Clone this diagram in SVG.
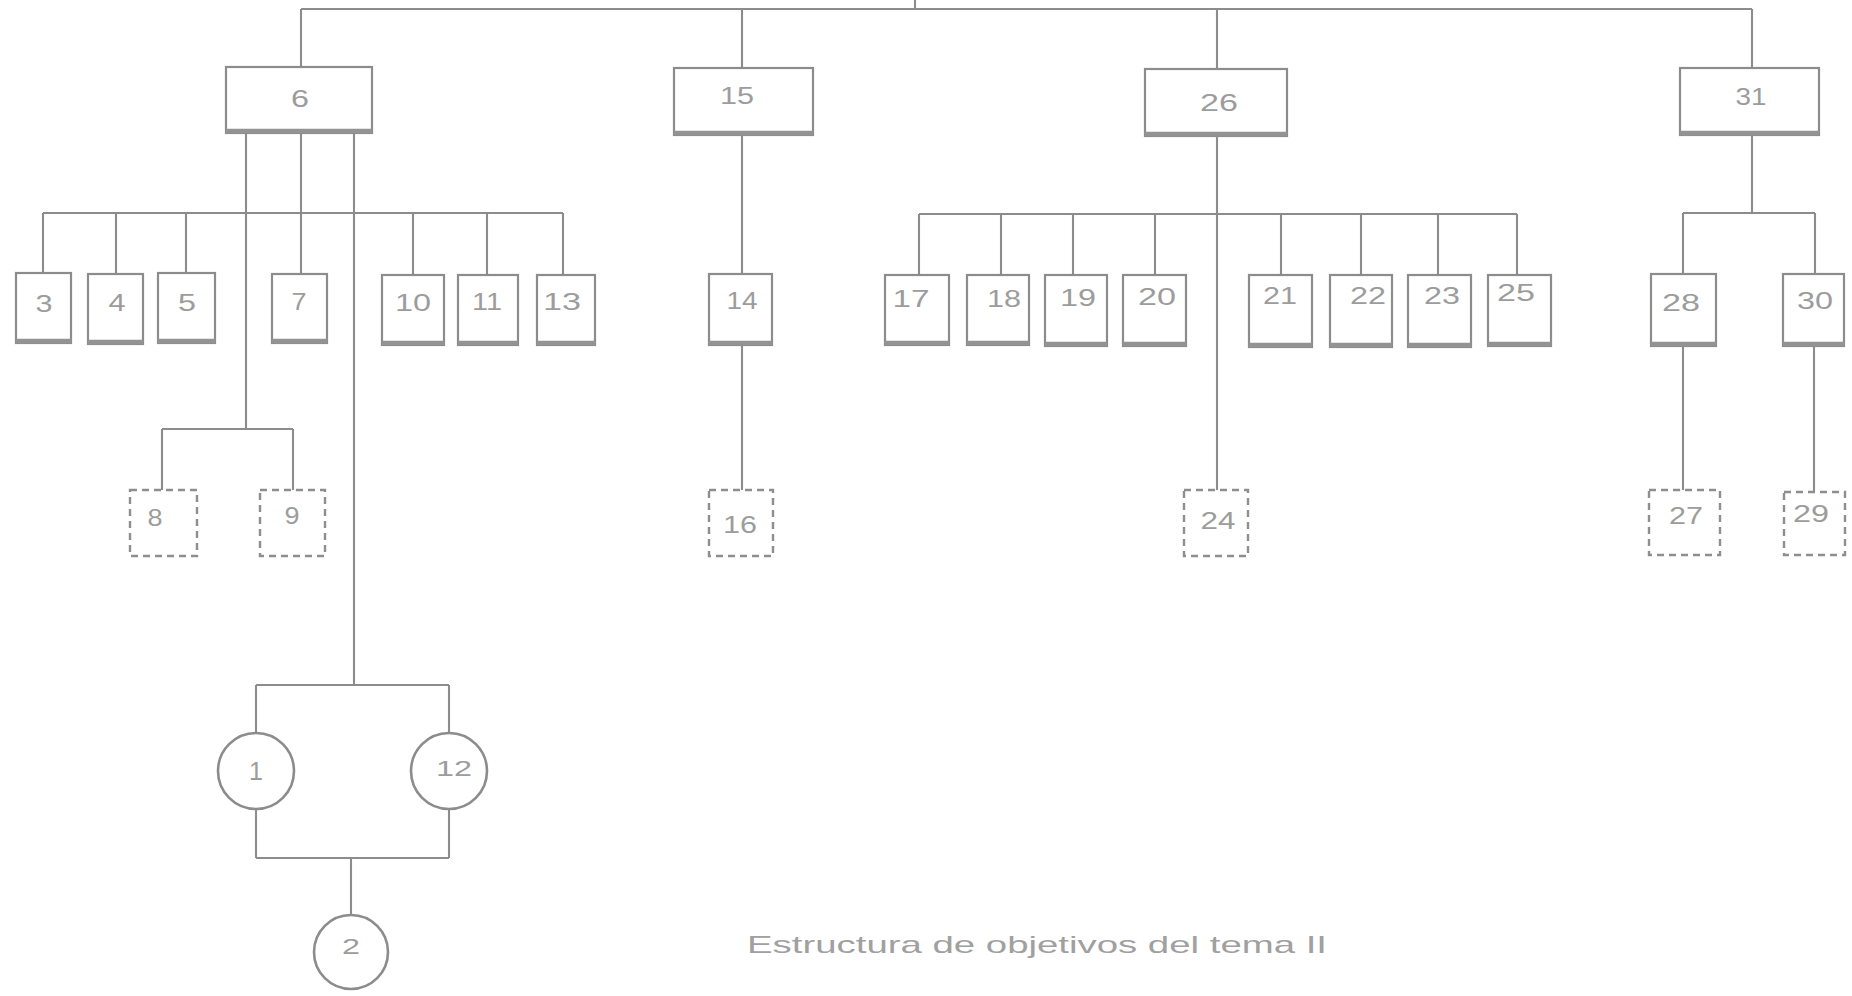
<svg xmlns="http://www.w3.org/2000/svg" width="1852" height="996" viewBox="0 0 1852 996">
  <style>
    .bg { fill: #ffffff; }
    .box { fill: #ffffff; stroke: #8c8c8c; stroke-width: 2.2; }
    .base { stroke: #939393; stroke-width: 4.5; stroke-linecap: butt; }
    .dash { fill: #ffffff; stroke: #8e8e8e; stroke-width: 2.4; stroke-dasharray: 7 5; }
    .circ { fill: #ffffff; stroke: #8c8c8c; stroke-width: 2.6; }
    .wire { fill: none; stroke: #8c8c8c; stroke-width: 2.1; }
    .lbl { font-family: "Liberation Sans", Arial, sans-serif; font-size: 23px; fill: #9c9c9c; text-anchor: middle; }
    .clbl { font-family: "Liberation Sans", Arial, sans-serif; font-size: 22px; fill: #9c9c9c; text-anchor: middle; }
    .big { font-size: 25px; }
    .cap { font-family: "Liberation Sans", Arial, sans-serif; font-size: 24px; fill: #a0a0a0; }
  </style>

  <rect class="bg" x="0" y="0" width="1852" height="996"/>

  <!-- connectors -->
  <g id="connectors" class="wire">
    <!-- top level bus -->
    <path d="M915 0 V9"/>
    <path d="M301 9 H1752"/>
    <path d="M301 9 V67 M742 9 V68 M1217 9 V69 M1752 9 V68"/>
    <!-- objective 6 -->
    <path d="M246 133 V429 M301 133 V274 M354 133 V685"/>
    <path d="M43 213 H563 M43 213 V273 M116 213 V274 M186 213 V273 M413 213 V275 M487 213 V275 M563 213 V275"/>
    <path d="M162 429 H293 M162 429 V490 M293 429 V490"/>
    <path d="M256 685 H449 M256 685 V733 M449 685 V733"/>
    <path d="M256 809 V858 M449 809 V858 M256 858 H449 M351 858 V915"/>
    <!-- objective 15 -->
    <path d="M742 135 V274 M742 345 V490"/>
    <!-- objective 26 -->
    <path d="M1217 136 V490"/>
    <path d="M919 214 H1517 M919 214 V275 M1001 214 V275 M1073 214 V275 M1155 214 V275 M1281 214 V275 M1361 214 V275 M1438 214 V275 M1517 214 V275"/>
    <!-- objective 31 -->
    <path d="M1752 135 V213 M1683 213 H1815 M1683 213 V274 M1815 213 V274"/>
    <path d="M1683 346 V490 M1814 346 V492"/>
  </g>

  <!-- first level -->
  <g id="n6"><rect class="box" x="226" y="67" width="146" height="66"/><line class="base" x1="226" y1="131" x2="372" y2="131"/><text class="lbl" x="300" y="107" textLength="18" lengthAdjust="spacingAndGlyphs">6</text></g>
  <g id="n15"><rect class="box" x="674" y="68" width="139" height="67"/><line class="base" x1="674" y1="133" x2="813" y2="133"/><text class="lbl" x="737" y="104" textLength="34" lengthAdjust="spacingAndGlyphs">15</text></g>
  <g id="n26"><rect class="box" x="1145" y="69" width="142" height="67"/><line class="base" x1="1145" y1="134" x2="1287" y2="134"/><text class="lbl" x="1219" y="111" textLength="38" lengthAdjust="spacingAndGlyphs">26</text></g>
  <g id="n31"><rect class="box" x="1680" y="68" width="139" height="67"/><line class="base" x1="1680" y1="133" x2="1819" y2="133"/><text class="lbl" x="1751" y="105" textLength="31" lengthAdjust="spacingAndGlyphs">31</text></g>

  <!-- second level -->
  <g id="n3"><rect class="box" x="16" y="273" width="55" height="70"/><line class="base" x1="16" y1="341" x2="71" y2="341"/><text class="lbl" x="44" y="312" textLength="17" lengthAdjust="spacingAndGlyphs">3</text></g>
  <g id="n4"><rect class="box" x="88" y="274" width="55" height="70"/><line class="base" x1="88" y1="342" x2="143" y2="342"/><text class="lbl" x="117" y="311" textLength="17" lengthAdjust="spacingAndGlyphs">4</text></g>
  <g id="n5"><rect class="box" x="158" y="273" width="57" height="70"/><line class="base" x1="158" y1="341" x2="215" y2="341"/><text class="lbl" x="187" y="311" textLength="18" lengthAdjust="spacingAndGlyphs">5</text></g>
  <g id="n7"><rect class="box" x="272" y="274" width="55" height="69"/><line class="base" x1="272" y1="341" x2="327" y2="341"/><text class="lbl" x="299" y="310" textLength="15" lengthAdjust="spacingAndGlyphs">7</text></g>
  <g id="n10"><rect class="box" x="382" y="275" width="62" height="70"/><line class="base" x1="382" y1="343" x2="444" y2="343"/><text class="lbl" x="413" y="311" textLength="36" lengthAdjust="spacingAndGlyphs">10</text></g>
  <g id="n11"><rect class="box" x="458" y="275" width="60" height="70"/><line class="base" x1="458" y1="343" x2="518" y2="343"/><text class="lbl" x="487" y="310" textLength="30" lengthAdjust="spacingAndGlyphs">11</text></g>
  <g id="n13"><rect class="box" x="537" y="275" width="58" height="70"/><line class="base" x1="537" y1="343" x2="595" y2="343"/><text class="lbl" x="562" y="310" textLength="38" lengthAdjust="spacingAndGlyphs">13</text></g>
  <g id="n14"><rect class="box" x="709" y="274" width="63" height="71"/><line class="base" x1="709" y1="343" x2="772" y2="343"/><text class="lbl" x="742" y="309" textLength="31" lengthAdjust="spacingAndGlyphs">14</text></g>
  <g id="n17"><rect class="box" x="885" y="275" width="64" height="70"/><line class="base" x1="885" y1="343" x2="949" y2="343"/><text class="lbl" x="911" y="307" textLength="37" lengthAdjust="spacingAndGlyphs">17</text></g>
  <g id="n18"><rect class="box" x="967" y="275" width="62" height="70"/><line class="base" x1="967" y1="343" x2="1029" y2="343"/><text class="lbl" x="1004" y="307" textLength="34" lengthAdjust="spacingAndGlyphs">18</text></g>
  <g id="n19"><rect class="box" x="1045" y="275" width="62" height="71"/><line class="base" x1="1045" y1="344" x2="1107" y2="344"/><text class="lbl" x="1078" y="306" textLength="36" lengthAdjust="spacingAndGlyphs">19</text></g>
  <g id="n20"><rect class="box" x="1123" y="275" width="63" height="71"/><line class="base" x1="1123" y1="344" x2="1186" y2="344"/><text class="lbl" x="1157" y="305" textLength="38" lengthAdjust="spacingAndGlyphs">20</text></g>
  <g id="n21"><rect class="box" x="1249" y="275" width="63" height="72"/><line class="base" x1="1249" y1="345" x2="1312" y2="345"/><text class="lbl" x="1280" y="304" textLength="34" lengthAdjust="spacingAndGlyphs">21</text></g>
  <g id="n22"><rect class="box" x="1330" y="275" width="62" height="72"/><line class="base" x1="1330" y1="345" x2="1392" y2="345"/><text class="lbl" x="1368" y="304" textLength="36" lengthAdjust="spacingAndGlyphs">22</text></g>
  <g id="n23"><rect class="box" x="1408" y="275" width="63" height="72"/><line class="base" x1="1408" y1="345" x2="1471" y2="345"/><text class="lbl" x="1442" y="304" textLength="36" lengthAdjust="spacingAndGlyphs">23</text></g>
  <g id="n25"><rect class="box" x="1488" y="275" width="63" height="71"/><line class="base" x1="1488" y1="344" x2="1551" y2="344"/><text class="lbl" x="1516" y="301" textLength="38" lengthAdjust="spacingAndGlyphs">25</text></g>
  <g id="n28"><rect class="box" x="1651" y="274" width="65" height="72"/><line class="base" x1="1651" y1="344" x2="1716" y2="344"/><text class="lbl" x="1681" y="311" textLength="38" lengthAdjust="spacingAndGlyphs">28</text></g>
  <g id="n30"><rect class="box" x="1783" y="274" width="61" height="72"/><line class="base" x1="1783" y1="344" x2="1844" y2="344"/><text class="lbl" x="1815" y="309" textLength="36" lengthAdjust="spacingAndGlyphs">30</text></g>

  <!-- dashed objectives -->
  <g id="n8"><rect class="dash" x="130" y="490" width="67" height="66"/><text class="lbl" x="155" y="526" textLength="15" lengthAdjust="spacingAndGlyphs">8</text></g>
  <g id="n9"><rect class="dash" x="260" y="490" width="65" height="66"/><text class="lbl" x="292" y="524" textLength="15" lengthAdjust="spacingAndGlyphs">9</text></g>
  <g id="n16"><rect class="dash" x="709" y="490" width="64" height="66"/><text class="lbl" x="740" y="533" textLength="34" lengthAdjust="spacingAndGlyphs">16</text></g>
  <g id="n24"><rect class="dash" x="1184" y="490" width="64" height="66"/><text class="lbl" x="1218" y="529" textLength="35" lengthAdjust="spacingAndGlyphs">24</text></g>
  <g id="n27"><rect class="dash" x="1649" y="490" width="71" height="65"/><text class="lbl" x="1686" y="524" textLength="34" lengthAdjust="spacingAndGlyphs">27</text></g>
  <g id="n29"><rect class="dash" x="1784" y="492" width="61" height="63"/><text class="lbl" x="1811" y="522" textLength="36" lengthAdjust="spacingAndGlyphs">29</text></g>

  <!-- circled objectives -->
  <g id="n1"><circle class="circ" cx="256" cy="771" r="38"/><text class="clbl big" x="256" y="780">1</text></g>
  <g id="n12"><circle class="circ" cx="449" cy="771" r="38"/><text class="clbl" x="454" y="776" textLength="36" lengthAdjust="spacingAndGlyphs">12</text></g>
  <g id="n2"><circle class="circ" cx="351" cy="952" r="37"/><text class="clbl" x="351" y="954" textLength="18" lengthAdjust="spacingAndGlyphs">2</text></g>

  <!-- caption -->
  <text class="cap" x="747" y="953" textLength="580" lengthAdjust="spacingAndGlyphs">Estructura de objetivos del tema II</text>
</svg>
